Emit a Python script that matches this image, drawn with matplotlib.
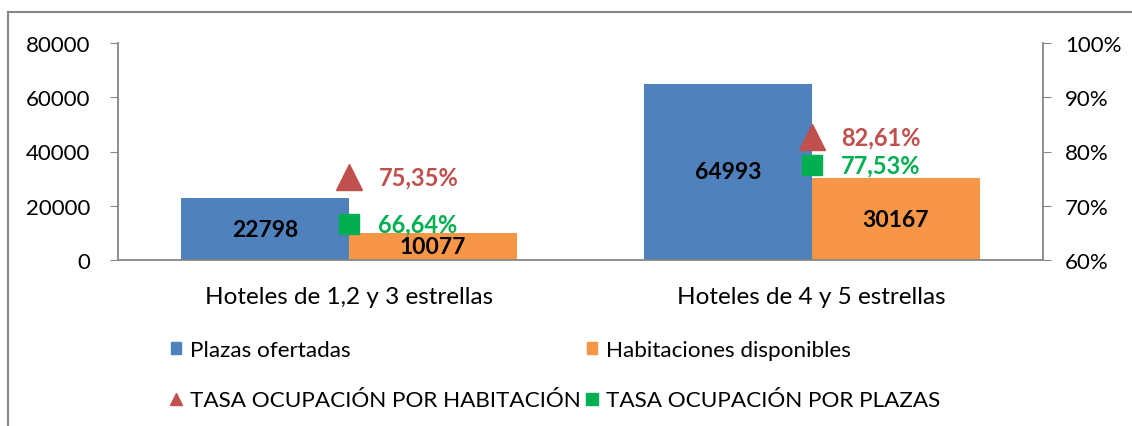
import matplotlib
matplotlib.use("Agg")
import matplotlib.pyplot as plt
from matplotlib.lines import Line2D
from matplotlib.patches import Patch

plt.rcParams['font.family'] = ['Lato', 'DejaVu Sans']

categories = ["Hoteles de 1,2 y 3 estrellas", "Hoteles de 4 y 5 estrellas"]
plazas = [22798, 64993]
habitaciones = [10077, 30167]
tasa_hab = [75.35, 82.61]
tasa_plazas = [66.64, 77.53]
tasa_hab_labels = ["75,35%", "82,61%"]
tasa_plazas_labels = ["66,64%", "77,53%"]
left_ticks = [0, 20000, 40000, 60000, 80000]
right_ticks = [60, 70, 80, 90, 100]
right_tick_labels = ["60%", "70%", "80%", "90%", "100%"]

BLUE = "#4F81BD"
ORANGE = "#F79646"
RED = "#C0504D"
GREEN = "#00B050"
GRAY = "#868686"

fig = plt.figure(figsize=(11.32, 4.27), dpi=100)
ax = fig.add_axes([118/1132, 1-261/427, (1043-118)/1132, (261-44)/427])

x = list(range(len(categories)))
w = 0.363
xb = [i - w/2 for i in x]
xo = [i + w/2 for i in x]
b1 = ax.bar(xb, plazas, width=w, color=BLUE, label="Plazas ofertadas")
b2 = ax.bar(xo, habitaciones, width=w, color=ORANGE, label="Habitaciones disponibles")
for rect, v in zip(list(b1) + list(b2), plazas + habitaciones):
    ax.text(rect.get_x() + rect.get_width()/2, v/2, str(v), ha="center", va="center",
            fontsize=16.5, fontweight="bold", color="black")

ax.set_xlim(-0.5, 1.5)
ax.set_ylim(0, 80000)
ax.set_yticks(left_ticks)
ax.set_yticklabels([str(t) for t in left_ticks])
ax.set_xticks(x)
ax.set_xticklabels(categories)
ax.tick_params(axis="x", length=0, pad=19, labelsize=17.5)
ax.tick_params(axis="y", direction="out", length=6, color=GRAY, pad=14, labelsize=16)
for s in ["top", "right"]:
    ax.spines[s].set_visible(False)
for s in ["left", "bottom"]:
    ax.spines[s].set_color(GRAY)
    ax.spines[s].set_linewidth(1.3)

ax2 = ax.twinx()
ax2.set_ylim(60, 100)
ax2.set_yticks(right_ticks)
ax2.set_yticklabels(right_tick_labels)
ax2.tick_params(axis="y", direction="out", length=6, color=GRAY, pad=10, labelsize=16)
for s in ["top", "left", "bottom"]:
    ax2.spines[s].set_visible(False)
ax2.spines["right"].set_color(GRAY)
ax2.spines["right"].set_linewidth(1.3)

ax2.plot(x, tasa_hab, linestyle="none", marker="^", markersize=19, color=RED)
ax2.plot(x, tasa_plazas, linestyle="none", marker="s", markersize=15, color=GREEN)
for i in x:
    ax2.annotate(tasa_hab_labels[i], (i, tasa_hab[i]), xytext=(21, 0), textcoords="offset points",
                 ha="left", va="center", fontsize=17, fontweight="bold", color=RED)
    ax2.annotate(tasa_plazas_labels[i], (i, tasa_plazas[i]), xytext=(21, 0), textcoords="offset points",
                 ha="left", va="center", fontsize=17, fontweight="bold", color=GREEN)

handles = [
    Patch(color=BLUE, label="Plazas ofertadas"),
    Line2D([], [], linestyle="none", marker="^", markersize=9, color=RED, label="TASA OCUPACIÓN POR HABITACIÓN"),
    Patch(color=ORANGE, label="Habitaciones disponibles"),
    Line2D([], [], linestyle="none", marker="s", markersize=8, color=GREEN, label="TASA OCUPACIÓN POR PLAZAS"),
]
fig.legend(handles=handles, ncol=2, loc="center left", bbox_to_anchor=(160/1132, 1-376/427),
           frameon=False, fontsize=16.2, handlelength=0.45, handleheight=0.45, handletextpad=0.4,
           columnspacing=0.25, labelspacing=1.3, borderpad=0)

# outer frame (left and top edges visible)
fig.add_artist(Line2D([8/1132, 8/1132], [0, 1-13/427], transform=fig.transFigure, color=GRAY, lw=1.5))
fig.add_artist(Line2D([8/1132, 1], [1-13/427, 1-13/427], transform=fig.transFigure, color=GRAY, lw=1.5))

fig.savefig("out.png", dpi=100)
